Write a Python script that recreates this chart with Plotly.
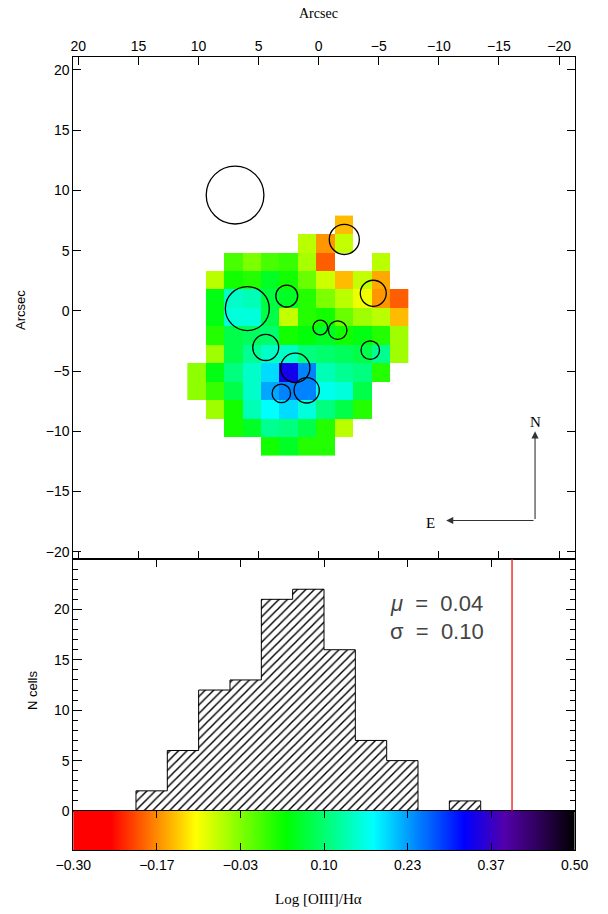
import numpy as np
import plotly.graph_objects as go

# ---------------- data ----------------
N = None
# Log [OIII]/Halpha per spaxel, rows from north (top) to south, columns east (left) to west
ratio_map = [
    [N, N, N, N, N, N, N, N, -0.14, N, N, N],
    [N, N, N, N, N, N, -0.065, -0.16, -0.07, N, N, N],
    [N, N, 0.00, -0.03, 0.00, 0.01, -0.055, -0.19, N, N, -0.065, N],
    [N, -0.065, 0.03, 0.02, 0.06, 0.03, -0.02, -0.075, -0.14, -0.07, -0.15, N],
    [N, 0.05, 0.15, 0.14, 0.077, 0.06, 0.02, -0.03, -0.065, -0.095, -0.16, -0.19],
    [N, 0.05, 0.16, 0.16, 0.08, -0.07, 0.02, 0.03, -0.02, -0.05, -0.065, -0.14],
    [N, 0.02, 0.08, 0.09, 0.10, 0.03, 0.045, 0.06, 0.03, 0.05, 0.02, -0.05],
    [N, -0.05, 0.08, 0.12, 0.15, 0.15, 0.11, 0.10, 0.09, 0.08, 0.12, -0.05],
    [-0.04, 0.05, 0.11, 0.15, 0.20, 0.34, 0.25, 0.14, 0.12, 0.11, 0.02, N],
    [-0.04, 0.01, 0.08, 0.15, 0.23, 0.25, 0.25, 0.17, 0.16, 0.08, N, N],
    [N, -0.05, 0.03, 0.14, 0.18, 0.20, 0.16, 0.11, 0.08, 0.02, N, N],
    [N, N, 0.03, 0.06, 0.12, 0.11, 0.08, 0.02, -0.065, N, N, N],
    [N, N, N, N, 0.03, 0.06, 0.02, 0.02, N, N, N, N],
]
# spaxel grid (arcsec): east edge of first column, north edge of first row, spaxel size
grid_x_start = 10.93
grid_y_start = 7.91
spaxel = 1.535

# apertures: centre (arcsec east, arcsec north) and radius (arcsec)
ap_x = [6.96, 5.94, 2.66, -2.13, -4.54, -0.13, -1.58, -4.29, 4.41, 1.95, 1.00, 3.11]
ap_y = [9.61, 0.19, 1.23, 5.93, 1.46, -1.38, -1.60, -3.26, -3.04, -4.73, -6.60, -6.85]
ap_r = [2.40, 1.83, 0.91, 1.25, 1.08, 0.61, 0.77, 0.77, 1.08, 1.22, 1.05, 0.77]

# histogram of the spaxel ratios
bin_edges = [-0.20, -0.15, -0.10, -0.05, 0.00, 0.05, 0.10, 0.15, 0.20, 0.25, 0.30, 0.35]
bin_counts = [2, 6, 12, 13, 21, 22, 16, 7, 5, 0, 1]
mean_ratio = 0.04
sigma_ratio = 0.10
limit_ratio = 0.40

cbar_ticks = [-0.30, -0.1667, -0.0333, 0.10, 0.2333, 0.3667, 0.50]
cbar_ticktext = ["\u22120.30", "\u22120.17", "\u22120.03", "0.10", "0.23", "0.37", "0.50"]
arcsec_ticks = [20, 15, 10, 5, 0, -5, -10, -15, -20]
count_ticks = [0, 5, 10, 15, 20]

# compass: origin (arcsec) and arm length
compass_x, compass_y, compass_len = -18.0, -17.4, 7.4

# ---------------- styling ----------------
zmin, zmax = -0.30, 0.50
colorscale = [
    [0.000, "#ff0000"],
    [0.075, "#ff0000"],
    [0.245, "#ffff00"],
    [0.425, "#00ff00"],
    [0.600, "#00ffff"],
    [0.780, "#0000ff"],
    [0.860, "#5200aa"],
    [0.930, "#2e0058"],
    [1.000, "#000000"],
]
SANS = "Liberation Sans, Arial, sans-serif"
SERIF = "Liberation Serif, Times New Roman, serif"
XDOM = [73.3 / 608, 574.7 / 608]
Y_MAP = [(914 - 559) / 914, (914 - 57.3) / 914]
Y_HIST = [(914 - 811) / 914, (914 - 559) / 914]
Y_CBAR = [(914 - 850) / 914, (914 - 811) / 914]

fig = go.Figure()

# ---- ratio map ----
ncol = len(ratio_map[0])
nrow = len(ratio_map)
xc = grid_x_start - spaxel * (np.arange(ncol) + 0.5)
yc = grid_y_start - spaxel * (np.arange(nrow) + 0.5)
z = np.array([[np.nan if v is None else v for v in row] for row in ratio_map])
fig.add_trace(go.Heatmap(
    x=xc, y=yc, z=z, colorscale=colorscale, zmin=zmin, zmax=zmax,
    showscale=False, hoverinfo="skip", xaxis="x", yaxis="y",
))

# apertures
for cx, cy, r in zip(ap_x, ap_y, ap_r):
    fig.add_shape(type="circle", xref="x", yref="y",
                  x0=cx - r, x1=cx + r, y0=cy - r, y1=cy + r,
                  line=dict(color="black", width=1.3))

# compass arrows
fig.add_annotation(x=compass_x, y=compass_y + compass_len, ax=compass_x, ay=compass_y,
                   xref="x", yref="y", axref="x", ayref="y", text="", showarrow=True,
                   arrowhead=2, arrowsize=1.3, arrowwidth=1.1, arrowcolor="#333")
fig.add_annotation(x=compass_x + compass_len, y=compass_y, ax=compass_x, ay=compass_y,
                   xref="x", yref="y", axref="x", ayref="y", text="", showarrow=True,
                   arrowhead=2, arrowsize=1.3, arrowwidth=1.1, arrowcolor="#333")
fig.add_annotation(x=compass_x, y=compass_y + compass_len + 0.8, xref="x", yref="y",
                   text="N", showarrow=False, font=dict(family=SERIF, size=15, color="black"))
fig.add_annotation(x=compass_x + compass_len + 1.3, y=compass_y - 0.25, xref="x", yref="y",
                   text="E", showarrow=False, font=dict(family=SERIF, size=15, color="black"))

# ---- histogram ----
edges = np.array(bin_edges)
counts = np.array(bin_counts, dtype=float)
centers = 0.5 * (edges[:-1] + edges[1:])
widths = np.diff(edges)
fig.add_trace(go.Bar(
    x=centers, y=counts, width=widths, xaxis="x2", yaxis="y2",
    marker=dict(color="white", line=dict(width=0),
                pattern=dict(shape="/", fgcolor="black", bgcolor="white",
                             size=6, solidity=0.24, fgopacity=1)),
    hoverinfo="skip", showlegend=False,
))
# step outline of the histogram
step_x = np.concatenate([[edges[0]], np.repeat(edges[1:-1], 2), [edges[-1]]])
step_y = np.repeat(counts, 2)
step_x = np.concatenate([[edges[0]], step_x, [edges[-1]]])
step_y = np.concatenate([[0], step_y, [0]])
fig.add_trace(go.Scatter(x=step_x, y=step_y, mode="lines", xaxis="x2", yaxis="y2",
                         line=dict(color="black", width=1), hoverinfo="skip",
                         showlegend=False))
# threshold line
fig.add_shape(type="line", xref="x2", yref="y2", x0=limit_ratio, x1=limit_ratio,
              y0=0, y1=25, line=dict(color="#ee1111", width=1.3))

fig.add_annotation(x=0.202, y=20.6, xref="x2", yref="y2", xanchor="left", yanchor="middle",
                   text="<i>\u03bc</i>  =  %.2f" % mean_ratio, showarrow=False,
                   font=dict(family=SANS, size=22, color="#444"))
fig.add_annotation(x=0.202, y=17.8, xref="x2", yref="y2", xanchor="left", yanchor="middle",
                   text="\u03c3  =  %.2f" % sigma_ratio, showarrow=False,
                   font=dict(family=SANS, size=22, color="#444"))

# ---- colour bar strip ----
grad = np.linspace(zmin, zmax, 501)
fig.add_trace(go.Heatmap(
    x=grad, y=[0, 1], z=[grad, grad], colorscale=colorscale, zmin=zmin, zmax=zmax,
    showscale=False, hoverinfo="skip", xaxis="x3", yaxis="y3",
))

axis_common = dict(showline=True, linecolor="black", linewidth=1, showgrid=False,
                   zeroline=False, ticks="inside", tickcolor="black", tickwidth=1,
                   automargin=False)

fig.update_layout(
    width=608, height=914,
    margin=dict(l=0, r=0, t=0, b=0, autoexpand=False),
    paper_bgcolor="white", plot_bgcolor="white",
    showlegend=False,
    bargap=0,
    xaxis=dict(domain=XDOM, anchor="y", range=[20.42, -21.3], side="top",
               tickvals=arcsec_ticks, ticklen=8, mirror="ticks",
               tickfont=dict(family=SANS, size=14, color="black"), **axis_common),
    yaxis=dict(domain=Y_MAP, anchor="x", range=[-20.6, 21.05],
               tickvals=arcsec_ticks, ticklen=8, mirror="ticks",
               tickfont=dict(family=SANS, size=14, color="black"), **axis_common),
    xaxis2=dict(domain=XDOM, anchor="y2", range=[zmin, zmax], side="top",
                tickvals=cbar_ticks, ticklen=8, mirror=True, showticklabels=False,
                **axis_common),
    yaxis2=dict(domain=Y_HIST, anchor="x2", range=[0, 25],
                tickvals=count_ticks, ticklen=9, mirror="ticks",
                minor=dict(dtick=1, ticklen=5, ticks="inside", tickcolor="black"),
                tickfont=dict(family=SANS, size=14, color="black"), **axis_common),
    xaxis3=dict(domain=XDOM, anchor="y3", range=[zmin, zmax],
                tickvals=cbar_ticks, ticktext=cbar_ticktext, ticklen=7, mirror="ticks",
                ticklabelstandoff=2,
                tickfont=dict(family=SANS, size=14, color="black"), **axis_common),
    yaxis3=dict(domain=Y_CBAR, anchor="x3", range=[0, 1], showticklabels=False,
                showline=True, linecolor="black", mirror=True, ticks="",
                showgrid=False, zeroline=False, automargin=False),
)

# axis titles
title_font = dict(color="black")
fig.add_annotation(x=318 / 608, y=1 - 14 / 914, xref="paper", yref="paper", text="Arcsec",
                   xanchor="center", yanchor="middle", showarrow=False,
                   font=dict(family=SERIF, size=14, **title_font))
fig.add_annotation(x=20 / 608, y=1 - 310 / 914, xref="paper", yref="paper", text="Arcsec",
                   xanchor="center", yanchor="middle", textangle=-90, showarrow=False,
                   font=dict(family=SANS, size=13, **title_font))
fig.add_annotation(x=32 / 608, y=1 - 690 / 914, xref="paper", yref="paper", text="N cells",
                   xanchor="center", yanchor="middle", textangle=-90, showarrow=False,
                   font=dict(family=SANS, size=13, **title_font))
fig.add_annotation(x=318 / 608, y=1 - 899 / 914, xref="paper", yref="paper",
                   text="Log [OIII]/H\u03b1", xanchor="center", yanchor="middle",
                   showarrow=False, font=dict(family=SERIF, size=15, **title_font))

fig.write_html("out.html")
